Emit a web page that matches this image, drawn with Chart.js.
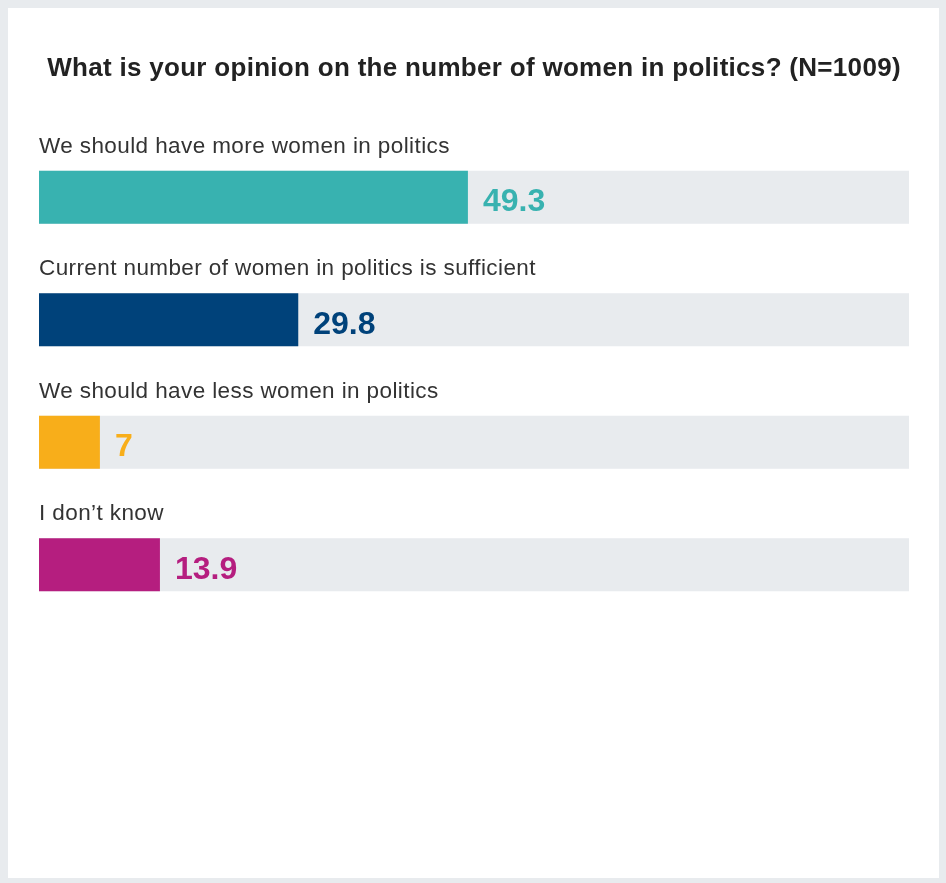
<!DOCTYPE html>
<html>
<head>
<meta charset="utf-8">
<script src="https://cdn.jsdelivr.net/npm/chart.js@4"></script>
<style>
  html, body { margin: 0; padding: 0; background: #fff; }
  #frame {
    position: relative;
    width: 946px; height: 883px;
    box-sizing: border-box;
    border-style: solid;
    border-color: #e8ebee;
    border-width: 8px 7px 5px 8px;
    background: #fff;
  }
  #chart { position: absolute; left: 0; top: 0; }
</style>
</head>
<body>
<div id="frame"></div>
<canvas id="chart" width="946" height="883"></canvas>
<script>
const categories = [
    'We should have more women in politics',
    'Current number of women in politics is sufficient',
    'We should have less women in politics',
    'I don\u2019t know'
];
const values = [49.3, 29.8, 7, 13.9];
const colors = ['#38b2b0', '#00427a', '#f8ae1a', '#b51e7f'];
const titleText = 'What is your opinion on the number of women in politics? (N=1009)';

const FONT = '"Liberation Sans", Arial, sans-serif';

// title, grey track behind each bar, and the text above / beside each bar
const barDecor = {
    id: 'barDecor',
    beforeDatasetsDraw(chart) {
        const ctx = chart.ctx;
        const area = chart.chartArea;
        ctx.save();
        ctx.fillStyle = '#e8ebee';
        chart.getDatasetMeta(0).data.forEach(function(bar) {
            ctx.fillRect(area.left, bar.y - bar.height / 2, area.right - area.left, bar.height);
        });
        ctx.restore();
    },
    afterDatasetsDraw(chart) {
        const ctx = chart.ctx;
        const area = chart.chartArea;
        ctx.save();
        ctx.textBaseline = 'alphabetic';

        ctx.textAlign = 'center';
        ctx.font = 'bold 26px ' + FONT;
        ctx.letterSpacing = '0.3px';
        ctx.fillStyle = '#222';
        ctx.fillText(titleText, 474, 76);

        ctx.textAlign = 'left';
        chart.getDatasetMeta(0).data.forEach(function(bar, i) {
            const top = bar.y - bar.height / 2;
            ctx.font = '22.5px ' + FONT;
            ctx.letterSpacing = '0.4px';
            ctx.fillStyle = '#333';
            ctx.fillText(categories[i], area.left, top - 18);

            ctx.font = 'bold 32px ' + FONT;
            ctx.letterSpacing = '0px';
            ctx.fillStyle = colors[i];
            ctx.fillText(String(values[i]), bar.x + 15, bar.y + 14);
        });
        ctx.restore();
    }
};

const ctx = document.getElementById('chart').getContext('2d');
const chart = new Chart(ctx, {
    type: 'bar',
    data: {
        labels: categories,
        datasets: [{
            data: values,
            backgroundColor: colors,
            borderWidth: 0,
            categoryPercentage: 1,
            barPercentage: 0.433
        }]
    },
    options: {
        indexAxis: 'y',
        responsive: false,
        animation: false,
        layout: {
            padding: { left: 39, right: 37, top: 136, bottom: 257 }
        },
        scales: {
            x: { min: 0, max: 100, display: false },
            y: { display: false }
        },
        plugins: {
            legend: { display: false },
            tooltip: { enabled: false },
            title: { display: false }
        }
    },
    plugins: [barDecor]
});
</script>
</body>
</html>
